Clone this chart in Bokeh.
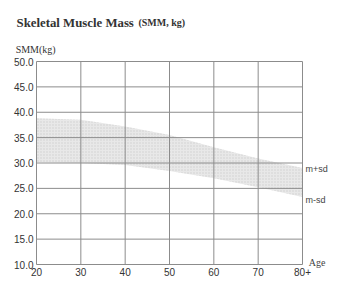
from bokeh.plotting import figure
from bokeh.models import Label, FixedTicker, Range1d, ColumnDataSource, LinearAxis
from bokeh.embed import file_html
from bokeh.resources import INLINE

ages = [20, 30, 40, 50, 60, 70, 80]
upper = [38.8, 38.5, 37.2, 35.5, 33.1, 30.9, 29.0]
lower = [30.2, 30.0, 29.6, 28.4, 27.0, 25.2, 23.3]
x_ticks = [20, 30, 40, 50, 60, 70, 80]
x_tick_labels = ["20", "30", "40", "50", "60", "70", "80+"]
y_ticks = [10, 15, 20, 25, 30, 35, 40, 45, 50]

W, H = 333, 283
# frame covers whole canvas; plot box occupies pixels x 36..302, y 61..264
px_per_x = 266 / 60
px_per_y = 203 / 40
x_range = Range1d(20 - 36 / px_per_x, 80 + (W - 302) / px_per_x)
y_range = Range1d(10 - (H - 264) / px_per_y, 50 + 61 / px_per_y)

p = figure(width=W, height=H, output_backend="svg", toolbar_location=None,
           x_range=x_range, y_range=y_range, x_axis_type=None, y_axis_type=None,
           min_border=0)
p.outline_line_color = None
p.xgrid.visible = False
p.ygrid.visible = False

src = ColumnDataSource(dict(x=ages, y1=lower, y2=upper))
p.varea(x="x", y1="y1", y2="y2", source=src, fill_color="#e8e8e8",
        hatch_pattern="dot", hatch_color="#cfcfcf", hatch_scale=3, hatch_weight=1)

# grid lines (including box edges) at the tick positions
grid_color = "#8c8c8c"
p.segment(x0=x_ticks, y0=[y_ticks[0]] * len(x_ticks), x1=x_ticks, y1=[y_ticks[-1]] * len(x_ticks),
          line_color=grid_color, line_width=1)
p.segment(x0=[x_ticks[0]] * len(y_ticks), y0=y_ticks, x1=[x_ticks[-1]] * len(y_ticks), y1=y_ticks,
          line_color=grid_color, line_width=1)

xaxis = LinearAxis(fixed_location=x_ticks[0] * 0 + y_ticks[0], ticker=FixedTicker(ticks=x_ticks),
                   bounds=(x_ticks[0], x_ticks[-1]))
xaxis.fixed_location = y_ticks[0]
yaxis = LinearAxis(fixed_location=x_ticks[0], ticker=FixedTicker(ticks=y_ticks),
                   bounds=(y_ticks[0], y_ticks[-1]))
xaxis.major_label_overrides = {t: l for t, l in zip(x_ticks, x_tick_labels)}
yaxis.major_label_overrides = {t: f"{t:.1f}" for t in y_ticks}
for ax in (xaxis, yaxis):
    ax.major_tick_out = 0
    ax.major_tick_in = 0
    ax.minor_tick_out = 0
    ax.minor_tick_in = 0
    ax.axis_line_color = None
    ax.major_label_text_font = "Liberation Sans"
    ax.major_label_text_font_size = "10px"
    ax.major_label_text_color = "#333333"
xaxis.major_label_standoff = 3
yaxis.major_label_standoff = 3
p.add_layout(xaxis, "below")
p.add_layout(yaxis, "left")

def lab(x, y, text, font, size, style="normal", color="#333333", baseline="alphabetic"):
    p.add_layout(Label(x=x, y=y, text=text, text_font=font, text_font_size=size,
                       text_font_style=style, text_color=color, text_baseline=baseline))

lab(15.5, 57.68, "Skeletal Muscle Mass", "Liberation Serif", "12.8px", "bold")
lab(43.0, 57.68, "(SMM, kg)", "Liberation Serif", "10px", "bold")
lab(15.3, 52.46, "SMM(kg)", "Liberation Serif", "10px")
lab(81.4, 10.4, "Age", "Liberation Serif", "10px", color="#444444")
lab(80.7, 28.9, "m+sd", "Liberation Sans", "9px", color="#444444", baseline="middle")
lab(80.7, 22.8, "m-sd", "Liberation Sans", "9px", color="#444444", baseline="middle")

open("out.html", "w").write(file_html(p, INLINE))
